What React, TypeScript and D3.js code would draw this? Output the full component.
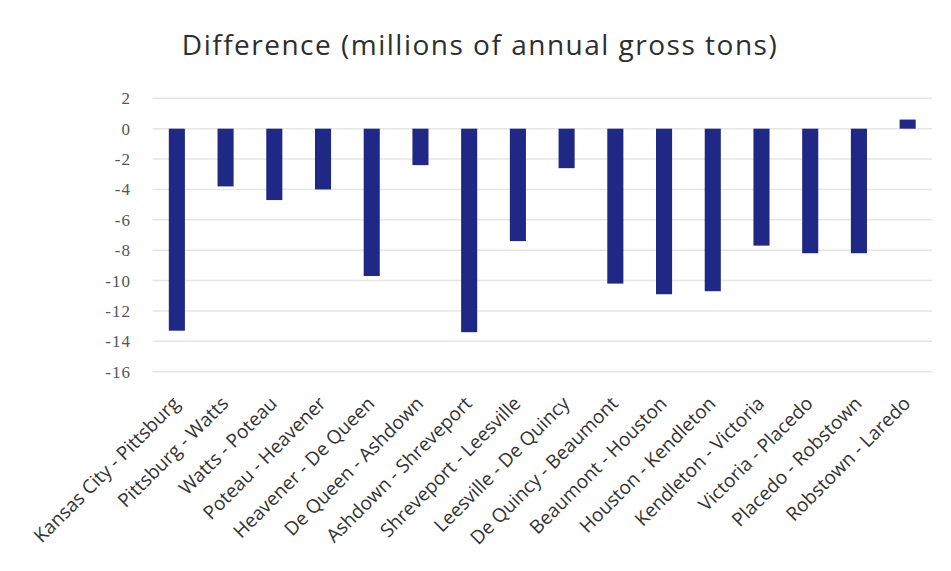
import React, { useEffect, useRef } from 'react';
import * as d3 from 'd3';

const segments = [
  'Kansas City - Pittsburg',
  'Pittsburg - Watts',
  'Watts - Poteau',
  'Poteau - Heavener',
  'Heavener - De Queen',
  'De Queen - Ashdown',
  'Ashdown - Shreveport',
  'Shreveport - Leesville',
  'Leesville - De Quincy',
  'De Quincy - Beaumont',
  'Beaumont - Houston',
  'Houston - Kendleton',
  'Kendleton - Victoria',
  'Victoria - Placedo',
  'Placedo - Robstown',
  'Robstown - Laredo',
];

const difference = [
  -13.3, -3.8, -4.7, -4.0, -9.7, -2.4, -13.4, -7.4, -2.6, -10.2, -10.9, -10.7, -7.7, -8.2, -8.2, 0.6,
];

const yTicks = [2, 0, -2, -4, -6, -8, -10, -12, -14, -16];

export default function App() {
  const svgRef = useRef<SVGSVGElement>(null);

  useEffect(() => {
    document.body.style.margin = '0';
    if (!svgRef.current) return;
    const svg = d3.select(svgRef.current);
    svg.selectAll('*').remove();

    const width = 951;
    const height = 571;
    const plot = { left: 152.5, right: 932, top: 98.3, bottom: 371.7 };

    svg.append('rect').attr('width', width).attr('height', height).attr('fill', '#ffffff');

    // Title
    svg.append('text')
      .attr('x', 480)
      .attr('y', 55)
      .attr('text-anchor', 'middle')
      .attr('fill', '#2e2e2e')
      .attr('style', 'font-family: "Open Sans", sans-serif; font-size: 28px; letter-spacing: 1.5px;')
      .text('Difference (millions of annual gross tons)');

    const x = d3.scaleBand<string>()
      .domain(segments)
      .range([plot.left, plot.right])
      .paddingInner(0.67)
      .paddingOuter(0.335);

    const y = d3.scaleLinear().domain([-16, 2]).range([plot.bottom, plot.top]);

    // Gridlines
    svg.append('g')
      .selectAll('line')
      .data(yTicks)
      .join('line')
      .attr('x1', plot.left)
      .attr('x2', plot.right)
      .attr('y1', d => y(d))
      .attr('y2', d => y(d))
      .attr('stroke', '#e6e6e6')
      .attr('stroke-width', 1.5);

    // Y labels
    svg.append('g')
      .selectAll('text')
      .data(yTicks)
      .join('text')
      .attr('x', 131)
      .attr('y', d => y(d))
      .attr('dy', '0.35em')
      .attr('text-anchor', 'end')
      .attr('fill', '#555')
      .attr('style', 'font-family: "Liberation Serif", serif; font-size: 17px; letter-spacing: 1px;')
      .text(d => d);

    // Bars
    svg.append('g')
      .selectAll('rect')
      .data(difference)
      .join('rect')
      .attr('x', (d, i) => x(segments[i])!)
      .attr('width', x.bandwidth())
      .attr('y', d => y(Math.max(0, d)))
      .attr('height', d => Math.abs(y(d) - y(0)))
      .attr('fill', '#1f2884');

    // X labels
    svg.append('g')
      .selectAll('text')
      .data(segments)
      .join('text')
      .attr('transform', d => `translate(${x(d)! + x.bandwidth() / 2 + 4},${plot.bottom + 33}) rotate(-45)`)
      .attr('text-anchor', 'end')
      .attr('fill', '#333')
      .attr('style', 'font-family: "Open Sans", sans-serif; font-size: 19px;')
      .text(d => d);
  }, []);

  return <svg ref={svgRef} width={951} height={571} style={{ display: 'block' }}></svg>;
}
